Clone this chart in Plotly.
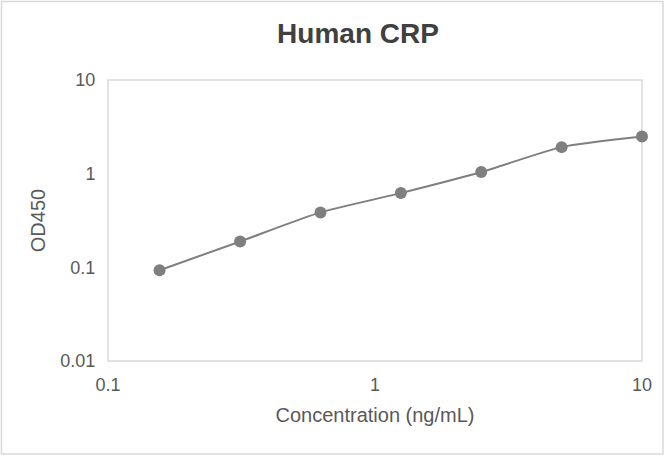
import plotly.graph_objects as go

# Standard curve values
concentration = [0.156, 0.3125, 0.625, 1.25, 2.5, 5, 10]
od450 = [0.093, 0.189, 0.386, 0.62, 1.04, 1.92, 2.49]

x_ticks = [0.1, 1, 10]
x_tick_labels = ["0.1", "1", "10"]
y_ticks = [0.01, 0.1, 1, 10]
y_tick_labels = ["0.01", "0.1", "1", "10"]

W, H = 666, 457
L, R, T, B = 108, 24, 80, 96
FONT = "Liberation Sans, Arial, sans-serif"
GRAY = "#7f7f7f"

fig = go.Figure()
fig.add_trace(go.Scatter(
    x=concentration,
    y=od450,
    mode="lines+markers",
    line=dict(color=GRAY, width=2, shape="spline", smoothing=0.6),
    marker=dict(color=GRAY, size=12),
    showlegend=False,
    cliponaxis=False,
))

pw, ph = W - L - R, H - T - B

fig.update_layout(
    width=W, height=H,
    margin=dict(l=L, r=R, t=T, b=B, pad=0),
    paper_bgcolor="white",
    plot_bgcolor="white",
    font=dict(family=FONT, color="#595959", size=18),
    title=dict(
        text="<b>Human CRP</b>",
        font=dict(size=28, color="#404040", family=FONT),
        x=358 / W, xanchor="center",
        y=1 - 33 / H, yanchor="middle",
    ),
    shapes=[
        # outer chart border
        dict(type="rect", xref="paper", yref="paper",
             x0=(1.5 - L) / pw, x1=(663 - L) / pw,
             y0=(H - B - 454) / ph, y1=(H - B - 1.5) / ph,
             line=dict(color="#d9d9d9", width=1.5), layer="below"),
        # plot area border
        dict(type="rect", xref="paper", yref="paper",
             x0=0, x1=1, y0=0, y1=1,
             line=dict(color="#d9d9d9", width=1.5), layer="below"),
    ],
)

fig.update_xaxes(
    type="log", range=[-1, 1],
    tickvals=x_ticks, ticktext=x_tick_labels,
    showgrid=False, zeroline=False, showline=False,
    ticks="outside", ticklen=7, tickcolor="rgba(0,0,0,0)",
    tickfont=dict(size=18, color="#595959"),
    title=dict(text="Concentration (ng/mL)", font=dict(size=20, color="#595959"), standoff=14),
)
fig.update_yaxes(
    type="log", range=[-2, 1],
    tickvals=y_ticks, ticktext=y_tick_labels,
    showgrid=False, zeroline=False, showline=False,
    ticks="outside", ticklen=8, tickcolor="rgba(0,0,0,0)",
    tickfont=dict(size=18, color="#595959"),
    title=dict(text="OD450", font=dict(size=20, color="#595959"), standoff=9),
)

# drop the browser's default body margin so the figure sits at the window corner
fig.write_html(
    "out.html",
    config={"displayModeBar": False},
    post_script="document.body.style.margin='0';",
)
